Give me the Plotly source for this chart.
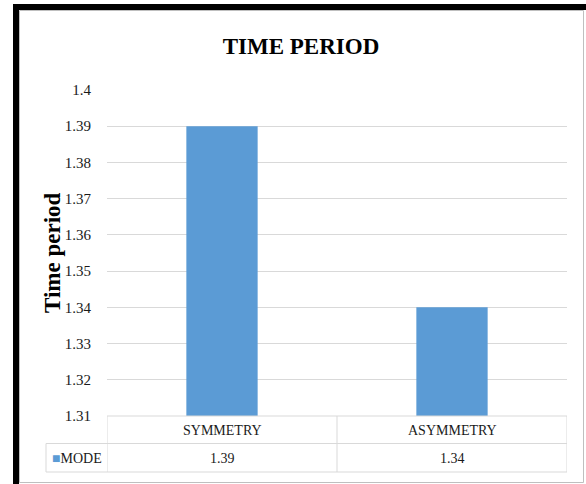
import plotly.graph_objects as go

# Chart data
categories = ["SYMMETRY", "ASYMMETRY"]
series_name = "MODE"
values = [1.39, 1.34]
y_ticks = [1.31, 1.32, 1.33, 1.34, 1.35, 1.36, 1.37, 1.38, 1.39, 1.40]
y_tick_labels = ["1.31", "1.32", "1.33", "1.34", "1.35", "1.36", "1.37", "1.38", "1.39", "1.4"]

BAR_COLOR = "#5B9BD5"
GRID_COLOR = "#D9D9D9"
FONT = "Liberation Serif, Times New Roman, serif"

# Page and plot-area geometry (pixels)
PAGE_W, PAGE_H = 586, 484
L, R, T, B = 107, 567, 90, 416
W, H = R - L, B - T


def px_x(p):
    """Pixel x -> paper x."""
    return (p - L) / W


def px_y(p):
    """Pixel y -> paper y."""
    return (B - p) / H


fig = go.Figure(
    go.Bar(
        x=categories,
        y=values,
        name=series_name,
        marker=dict(color=BAR_COLOR, line=dict(width=0)),
        width=0.31,
        showlegend=False,
    )
)

shapes = []
# Outer frame: heavy black edge on top and left, thin grey box inside
shapes.append(dict(type="rect", xref="paper", yref="paper",
                   x0=px_x(13), x1=px_x(640), y0=px_y(10), y1=px_y(4),
                   fillcolor="black", line=dict(width=0), layer="below"))
shapes.append(dict(type="rect", xref="paper", yref="paper",
                   x0=px_x(13), x1=px_x(19), y0=px_y(540), y1=px_y(4),
                   fillcolor="black", line=dict(width=0), layer="below"))
shapes.append(dict(type="rect", xref="paper", yref="paper",
                   x0=px_x(19.5), x1=px_x(583.5), y0=px_y(482.5), y1=px_y(10.5),
                   fillcolor="white", line=dict(color="#BFBFBF", width=1), layer="below"))

# Data table below the plot
row_mid = px_y(443.5)
row_bot = px_y(472)
tbl_left = px_x(46)
grid_line = dict(color=GRID_COLOR, width=1)
shapes.append(dict(type="line", xref="x", yref="paper",
                   x0=-0.5, x1=len(categories) - 0.5, y0=0, y1=0, line=grid_line))
for i in range(len(categories) + 1):
    shapes.append(dict(type="line", xref="x", yref="paper",
                       x0=i - 0.5, x1=i - 0.5, y0=0, y1=row_bot, line=grid_line))
for yy in (row_mid, row_bot):
    shapes.append(dict(type="line", xref="paper", yref="paper",
                       x0=tbl_left, x1=1, y0=yy, y1=yy, line=grid_line))
shapes.append(dict(type="line", xref="paper", yref="paper",
                   x0=tbl_left, x1=tbl_left, y0=row_mid, y1=row_bot, line=grid_line))

annotations = []
for cat, val in zip(categories, values):
    annotations.append(dict(x=cat, xref="x", y=px_y(430), yref="paper",
                            text=cat, showarrow=False, yanchor="middle",
                            font=dict(family=FONT, size=14, color="#1a1a1a")))
    annotations.append(dict(x=cat, xref="x", y=px_y(458), yref="paper",
                            text=f"{val:.2f}", showarrow=False, yanchor="middle",
                            font=dict(family=FONT, size=14, color="#1a1a1a")))
# Series key in the table's first column
annotations.append(dict(x=px_x(50), xref="paper", y=px_y(458), yref="paper",
                        xanchor="left", yanchor="middle", showarrow=False,
                        text=f"<span style='color:{BAR_COLOR}'>■</span>{series_name}",
                        font=dict(family=FONT, size=14, color="#1a1a1a")))
# Y-axis title
annotations.append(dict(x=px_x(52), xref="paper", y=0.5, yref="paper",
                        text="<b>Time period</b>", textangle=-90, showarrow=False,
                        xanchor="center", yanchor="middle",
                        font=dict(family=FONT, size=23, color="black")))

fig.update_layout(
    width=PAGE_W,
    height=PAGE_H,
    margin=dict(l=L, r=PAGE_W - R, t=T, b=PAGE_H - B, pad=0),
    paper_bgcolor="white",
    plot_bgcolor="rgba(0,0,0,0)",
    title=dict(text="<b>TIME PERIOD</b>", xref="container", x=301 / PAGE_W,
               xanchor="center", yref="container", y=1 - 46 / PAGE_H, yanchor="middle",
               font=dict(family=FONT, size=23, color="black")),
    xaxis=dict(range=[-0.5, len(categories) - 0.5], showticklabels=False,
               showgrid=False, zeroline=False, showline=False, ticks=""),
    yaxis=dict(range=[1.31, 1.40], tickvals=y_ticks, ticktext=y_tick_labels,
               showgrid=True, gridcolor=GRID_COLOR, gridwidth=1,
               zeroline=False, showline=False,
               ticks="outside", ticklen=12, tickcolor="rgba(0,0,0,0)",
               tickfont=dict(family=FONT, size=15, color="#1a1a1a")),
    shapes=shapes,
    annotations=annotations,
    bargap=0.69,
)

fig.write_html("out.html")
